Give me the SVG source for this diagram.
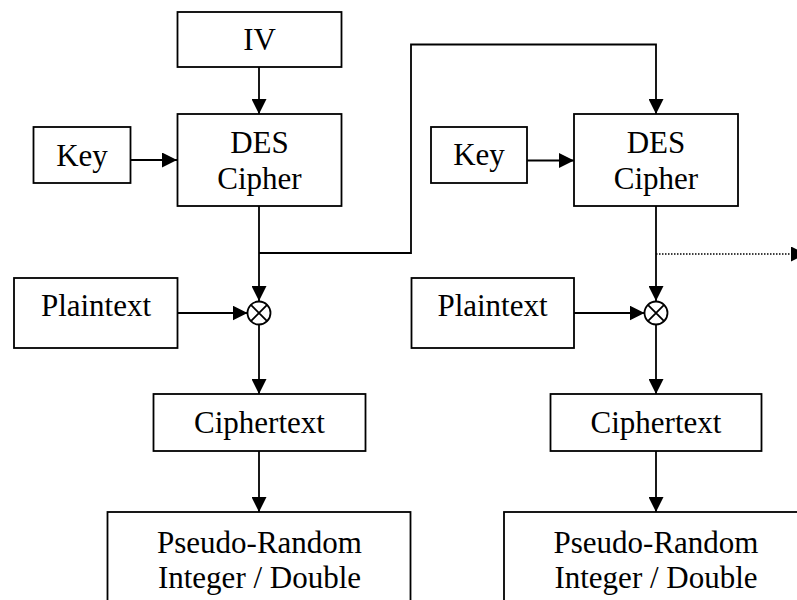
<svg xmlns="http://www.w3.org/2000/svg" width="797" height="600" viewBox="0 0 797 600">
<style>
.box{fill:#fff;stroke:#000;stroke-width:1.8}
.t{font-family:"Liberation Serif","Times New Roman",serif;font-size:31px;fill:#000;text-anchor:middle}
.ln{fill:none;stroke:#000;stroke-width:1.8}
.dot{fill:none;stroke:#000;stroke-width:1.5;stroke-dasharray:1.5 1.5}
.xor{fill:#fff;stroke:#000;stroke-width:1.8}
</style>
<defs>
<marker id="ah" markerUnits="userSpaceOnUse" markerWidth="15" markerHeight="15" viewBox="0 0 14 14" refX="14" refY="7" orient="auto">
<path d="M0,0 L14,7 L0,14 Z" fill="#000"/>
</marker>
</defs>
<rect width="797" height="600" fill="#fff"/>
<g id="connectors">
<line class="ln" x1="259" y1="67" x2="259" y2="114" marker-end="url(#ah)"/>
<line class="ln" x1="131" y1="160" x2="177" y2="160" marker-end="url(#ah)"/>
<line class="ln" x1="259" y1="206" x2="259" y2="301" marker-end="url(#ah)"/>
<polyline class="ln" points="259,253 411,253 411,44.5 656,44.5 656,114" marker-end="url(#ah)"/>
<line class="ln" x1="177" y1="313" x2="247.5" y2="313" marker-end="url(#ah)"/>
<line class="ln" x1="259" y1="324.5" x2="259" y2="394" marker-end="url(#ah)"/>
<line class="ln" x1="259" y1="451" x2="259" y2="512" marker-end="url(#ah)"/>
<line class="ln" x1="527" y1="160.5" x2="574" y2="160.5" marker-end="url(#ah)"/>
<line class="ln" x1="656" y1="206" x2="656" y2="301" marker-end="url(#ah)"/>
<line class="dot" x1="656" y1="254" x2="806" y2="254" marker-end="url(#ah)"/>
<line class="ln" x1="574" y1="313" x2="644.5" y2="313" marker-end="url(#ah)"/>
<line class="ln" x1="656" y1="324.5" x2="656" y2="394" marker-end="url(#ah)"/>
<line class="ln" x1="656" y1="451" x2="656" y2="512" marker-end="url(#ah)"/>
</g>
<g id="iv"><rect class="box" x="177.5" y="12" width="164" height="55"/><text class="t" x="259.5" y="50">IV</text></g>
<g id="key1"><rect class="box" x="33.5" y="127" width="97" height="56"/><text class="t" x="82" y="166">Key</text></g>
<g id="des1"><rect class="box" x="177.5" y="114" width="164" height="92"/><text class="t" x="259.5" y="153">DES</text><text class="t" x="259.5" y="189">Cipher</text></g>
<g id="plain1"><rect class="box" x="14" y="278" width="163.5" height="70"/><text class="t" x="96" y="316">Plaintext</text></g>
<g id="xor1"><circle class="xor" cx="259" cy="313" r="11.5"/><path class="ln" d="M250.9,304.9 L267.1,321.1 M267.1,304.9 L250.9,321.1" stroke-width="1.5"/></g>
<g id="cipher1"><rect class="box" x="153.5" y="394" width="212" height="57"/><text class="t" x="259.5" y="433">Ciphertext</text></g>
<g id="prng1"><rect class="box" x="107.5" y="512" width="303" height="100"/><text class="t" x="259.5" y="553">Pseudo-Random</text><text class="t" x="259.5" y="588">Integer / Double</text></g>
<g id="key2"><rect class="box" x="431" y="127" width="96" height="56"/><text class="t" x="479" y="165">Key</text></g>
<g id="des2"><rect class="box" x="574" y="114" width="164" height="92"/><text class="t" x="656" y="153">DES</text><text class="t" x="656" y="189">Cipher</text></g>
<g id="plain2"><rect class="box" x="411.5" y="278" width="162.5" height="70"/><text class="t" x="492.5" y="316">Plaintext</text></g>
<g id="xor2"><circle class="xor" cx="656" cy="313" r="11.5"/><path class="ln" d="M647.9,304.9 L664.1,321.1 M664.1,304.9 L647.9,321.1" stroke-width="1.5"/></g>
<g id="cipher2"><rect class="box" x="550.5" y="394" width="211" height="57"/><text class="t" x="656" y="433">Ciphertext</text></g>
<g id="prng2"><rect class="box" x="504" y="512" width="304" height="100"/><text class="t" x="656" y="553">Pseudo-Random</text><text class="t" x="656" y="588">Integer / Double</text></g>
</svg>
